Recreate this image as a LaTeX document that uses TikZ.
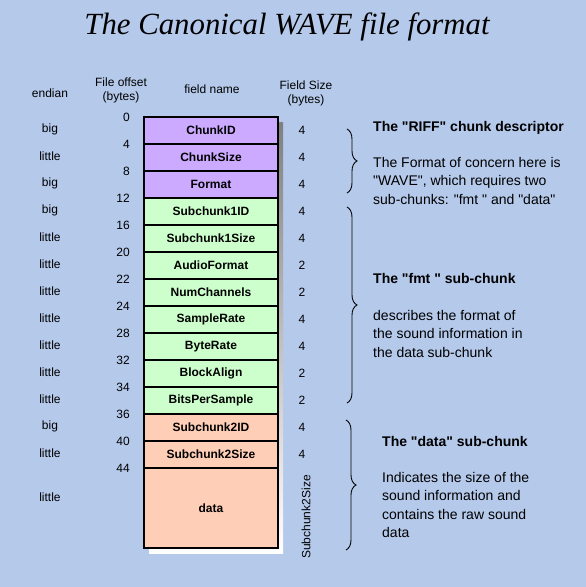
\documentclass[tikz,border=0pt]{standalone}
\usepackage{fontspec}
\setmainfont{Liberation Sans}[Ligatures=TeXOff]
\newfontfamily\titlefont{Liberation Serif}
\usetikzlibrary{decorations.pathreplacing}
\definecolor{bgblue}{RGB}{181,201,235}
\definecolor{purp}{RGB}{204,170,255}
\definecolor{mint}{RGB}{204,255,204}
\definecolor{salmon}{RGB}{255,206,182}
\definecolor{shade}{RGB}{85,85,90}
\tikzset{
  fieldbox/.style={draw=black, line width=1.6pt, minimum width=134pt, minimum height=27pt, inner sep=0pt, font=\fontsize{12}{14}\selectfont\bfseries},
  small/.style={inner sep=0pt, font=\fontsize{12}{14}\selectfont},
  hdr/.style={inner sep=0pt, align=center, font=\fontsize{12}{14}\selectfont},
  headline/.style={inner sep=0pt, anchor=north west, font=\fontsize{14}{18}\selectfont\bfseries},
  para/.style={inner sep=0pt, anchor=north west, align=left, font=\fontsize{14}{18.4}\selectfont},
  bracepath/.style={decorate, decoration={brace, amplitude=10pt}, line width=0.9pt}
}
\begin{document}
\begin{tikzpicture}[x=1pt, y=-1pt]
\useasboundingbox (0,0) rectangle (586,587);
\fill[bgblue] (0,0) rectangle (586,587);

% title
\node[inner sep=0pt, font=\fontsize{30.8}{36}\selectfont\titlefont\itshape] (title) at (287,27) {The Canonical WAVE file format};

% column headers
\node[hdr] (hendian) at (50,93) {endian};
\node[hdr] (hoffset) at (121,90) {File offset\\(bytes)};
\node[hdr] (hname) at (212,89) {field name};
\node[hdr] (hsize) at (306,93) {Field Size\\(bytes)};

% shadow
\fill[shade] (149,122) rectangle (283,553);

% fields
\node[fieldbox, fill=purp] (f0) at (211,130.5) {ChunkID};
\node[fieldbox, fill=purp] (f1) at (211,157.5) {ChunkSize};
\node[fieldbox, fill=purp] (f2) at (211,184.5) {Format};
\node[fieldbox, fill=mint] (f3) at (211,211.5) {Subchunk1ID};
\node[fieldbox, fill=mint] (f4) at (211,238.5) {Subchunk1Size};
\node[fieldbox, fill=mint] (f5) at (211,265.5) {AudioFormat};
\node[fieldbox, fill=mint] (f6) at (211,292.5) {NumChannels};
\node[fieldbox, fill=mint] (f7) at (211,319.5) {SampleRate};
\node[fieldbox, fill=mint] (f8) at (211,346.5) {ByteRate};
\node[fieldbox, fill=mint] (f9) at (211,373.5) {BlockAlign};
\node[fieldbox, fill=mint] (f10) at (211,400.5) {BitsPerSample};
\node[fieldbox, fill=salmon] (f11) at (211,427.5) {Subchunk2ID};
\node[fieldbox, fill=salmon] (f12) at (211,454.5) {Subchunk2Size};
\node[fieldbox, fill=salmon, minimum height=80pt] (f13) at (211,508) {data};

% endian
\node[small] (e0) at (50,129) {big};
\node[small] (e1) at (50,156) {little};
\node[small] (e2) at (50,183) {big};
\node[small] (e3) at (50,210) {big};
\node[small] (e4) at (50,237) {little};
\node[small] (e5) at (50,264) {little};
\node[small] (e6) at (50,291) {little};
\node[small] (e7) at (50,318) {little};
\node[small] (e8) at (50,345) {little};
\node[small] (e9) at (50,372) {little};
\node[small] (e10) at (50,399) {little};
\node[small] (e11) at (50,426) {big};
\node[small] (e12) at (50,453) {little};
\node[small] (e13) at (50,497) {little};

% offsets
\node[small, anchor=east] (o0) at (130,117) {0};
\node[small, anchor=east] (o1) at (130,144) {4};
\node[small, anchor=east] (o2) at (130,171) {8};
\node[small, anchor=east] (o3) at (130,198) {12};
\node[small, anchor=east] (o4) at (130,225) {16};
\node[small, anchor=east] (o5) at (130,252) {20};
\node[small, anchor=east] (o6) at (130,279) {22};
\node[small, anchor=east] (o7) at (130,306) {24};
\node[small, anchor=east] (o8) at (130,333) {28};
\node[small, anchor=east] (o9) at (130,360) {32};
\node[small, anchor=east] (o10) at (130,387) {34};
\node[small, anchor=east] (o11) at (130,414) {36};
\node[small, anchor=east] (o12) at (130,441) {40};
\node[small, anchor=east] (o13) at (130,468) {44};

% sizes
\node[small] (s0) at (302,130) {4};
\node[small] (s1) at (302,157) {4};
\node[small] (s2) at (302,184) {4};
\node[small] (s3) at (302,211) {4};
\node[small] (s4) at (302,238) {4};
\node[small] (s5) at (302,265) {2};
\node[small] (s6) at (302,292) {2};
\node[small] (s7) at (302,319) {4};
\node[small] (s8) at (302,346) {4};
\node[small] (s9) at (302,373) {2};
\node[small] (s10) at (302,400) {2};
\node[small] (s11) at (302,427) {4};
\node[small] (s12) at (302,454) {4};
\node[small, rotate=90] (s13) at (306,517) {Subchunk2Size};

% braces
\coordinate (b1t) at (347,129);
\coordinate (b1b) at (347,193);
\coordinate (b2t) at (347,207);
\coordinate (b2b) at (347,403);
\coordinate (b3t) at (346,420);
\coordinate (b3b) at (346,550);
\draw[bracepath] (b1t) -- (b1b);
\draw[bracepath] (b2t) -- (b2b);
\draw[bracepath] (b3t) -- (b3b);

% descriptions
\node[headline] (riffh) at (373,121) {The "RIFF" chunk descriptor};
\node[para] (riffp) at (373,157) {The Format of concern here is\\"WAVE", which requires two\\sub-chunks: "fmt " and "data"};
\node[headline] (fmth) at (373,273) {The "fmt " sub-chunk};
\node[para] (fmtp) at (373,310) {describes the format of\\the sound information in\\the data sub-chunk};
\node[headline] (datah) at (382,436) {The "data" sub-chunk};
\node[para] (datap) at (382,472) {Indicates the size of the\\sound information and\\contains the raw sound\\data};
\end{tikzpicture}
\end{document}
